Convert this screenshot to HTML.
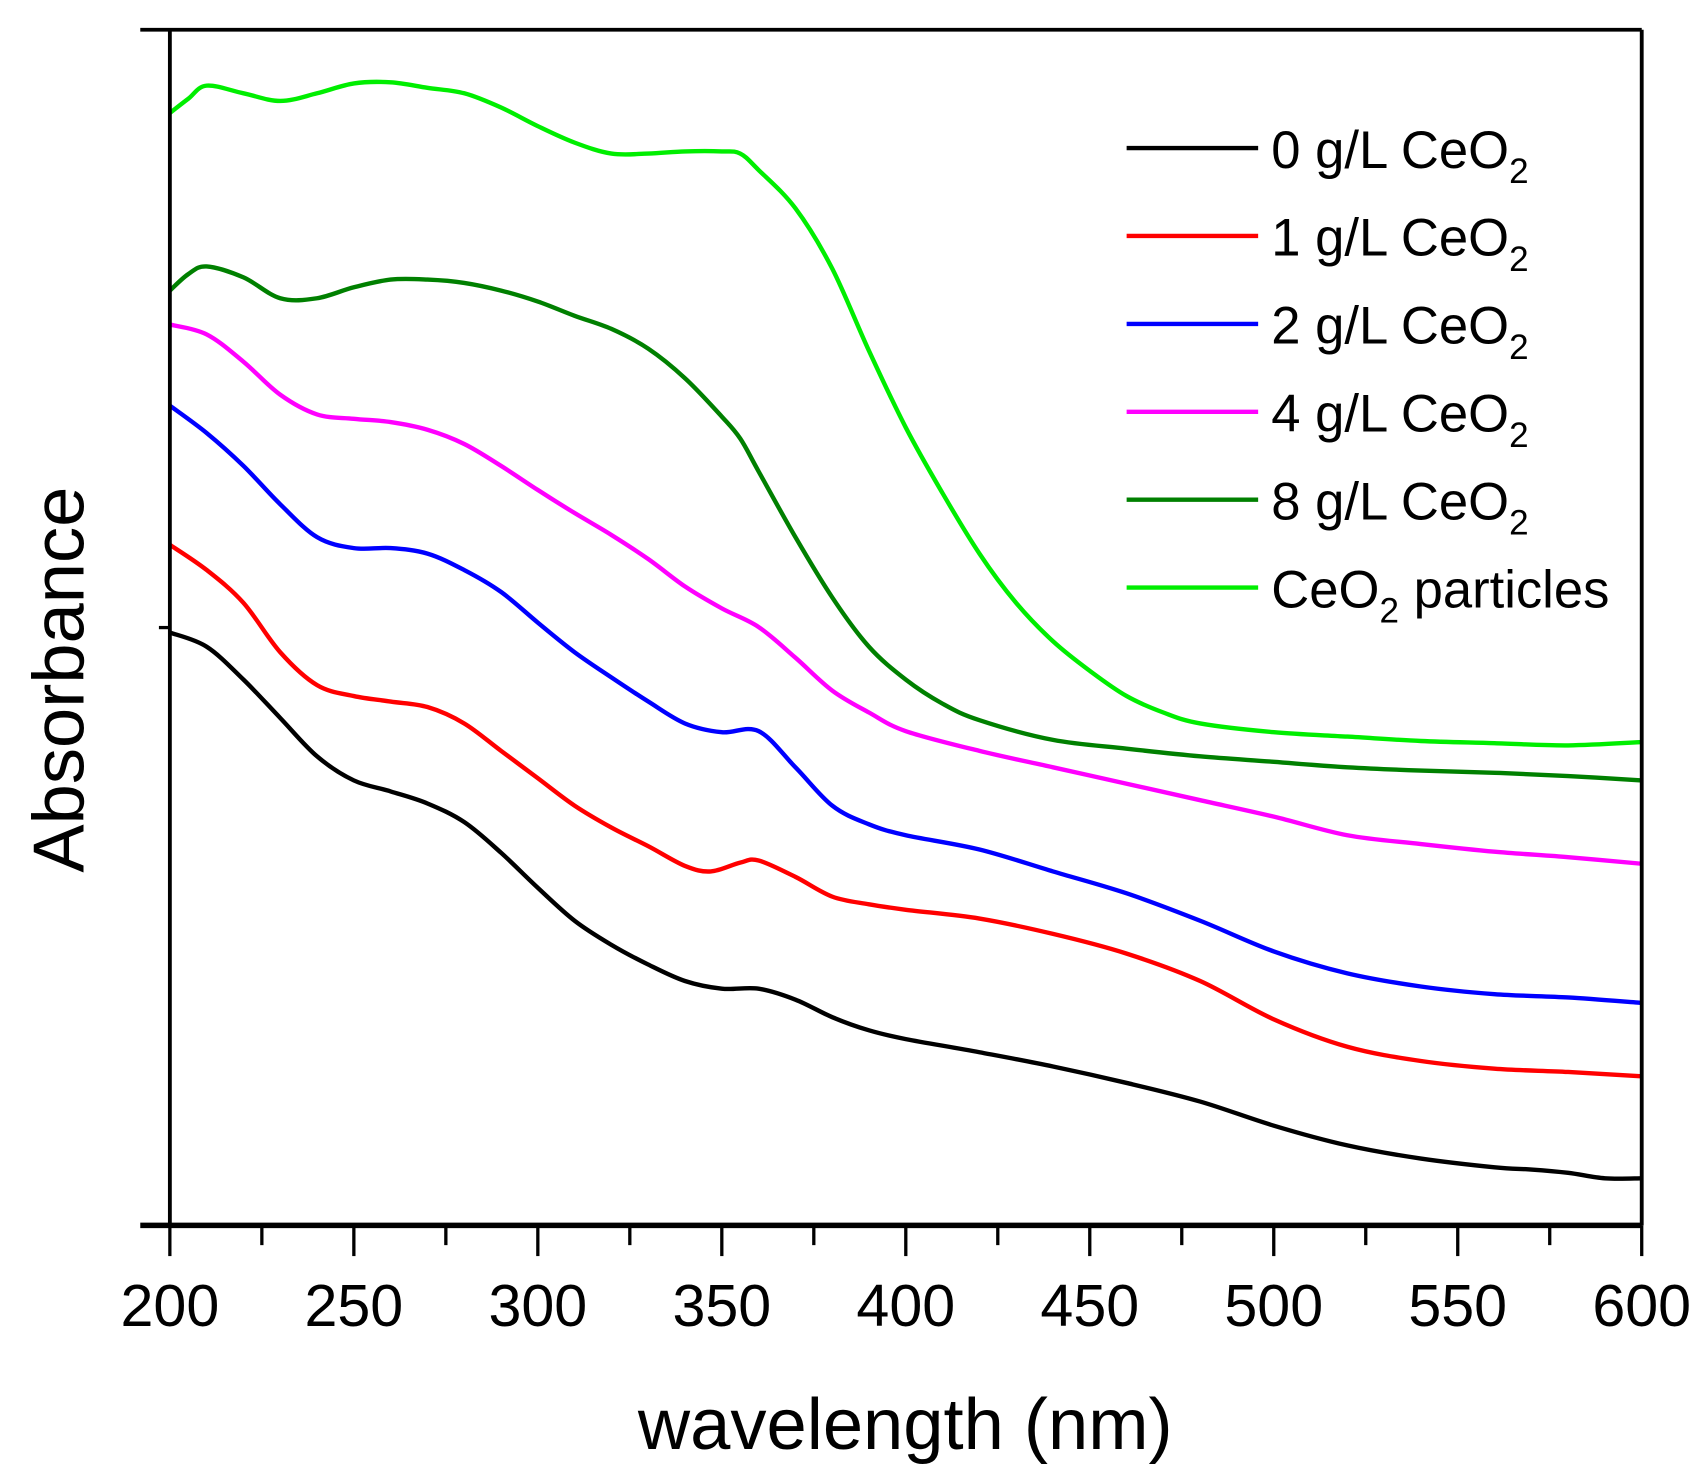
<!DOCTYPE html>
<html><head><meta charset="utf-8"><style>
html,body{margin:0;padding:0;background:#fff;}
svg{display:block;font-family:"Liberation Sans",Arial,sans-serif;}
</style></head><body>
<svg id="chart" width="1702" height="1482" viewBox="0 0 1553 1352" xmlns="http://www.w3.org/2000/svg">
<rect width="1553" height="1352" fill="#fff"/>
<g id="plot"></g>
<g id="axes"></g>
<g id="legend"></g>
<text transform="translate(76,620) rotate(-90)" text-anchor="middle" font-size="66">Absorbance</text>
<text x="826" y="1322" text-anchor="middle" font-size="66">wavelength (nm)</text>
</svg>
<script>
const xTickLabels = ["200","250","300","350","400","450","500","550","600"];
const xTicks = [200,250,300,350,400,450,500,550,600];
const seriesNames = ["0 g/L CeO2","1 g/L CeO2","2 g/L CeO2","4 g/L CeO2","8 g/L CeO2","CeO2 particles"];
const seriesColors = ["#000000","#ff0000","#0000ff","#ff00ff","#008000","#00ee00"];
const wlBlack = [200,210,220,230,240,250,260,270,280,290,300,310,320,330,340,350,360,370,380,390,400,420,440,460,480,500,520,540,560,570,580,590,600];
const absBlack = [541,528,498,463,428,406,396,385,368,340,308,278,256,238,223,216,216,206,190,178,170,158,145,130,113,91,73,61,53,51,48,43,43];
const wlRed = [200,210,220,230,240,250,260,270,280,290,300,310,320,330,340,347,355,360,370,380,390,400,420,440,460,480,500,520,540,560,580,600];
const absRed = [621,598,568,523,493,483,478,473,458,433,408,383,363,346,328,323,331,333,318,300,293,288,280,266,248,223,188,163,150,143,140,136];
const wlBlue = [200,210,220,230,240,250,260,270,280,290,300,310,320,330,340,350,360,370,380,390,400,420,440,460,480,500,520,540,560,580,600];
const absBlue = [748,723,693,658,628,618,618,613,598,578,550,523,500,478,458,450,451,418,383,366,356,343,323,303,278,250,230,218,211,208,203];
const wlMagenta = wlBlue;
const absMagenta = [822,813,788,758,740,736,733,726,713,693,671,650,630,608,583,563,546,518,488,468,451,433,418,403,388,373,356,348,341,336,330];
const wlDarkGreen = [200,205,210,220,230,240,250,260,270,280,290,300,310,320,330,340,350,355,360,370,380,390,400,410,420,440,460,480,500,520,540,560,580,600];
const absDarkGreen = [853,868,875,865,846,846,856,863,863,860,853,843,830,818,800,773,738,718,688,628,573,528,498,476,461,443,435,428,423,418,415,413,410,406];
const wlGreen = [200,205,210,220,230,240,250,260,270,280,290,300,310,320,330,340,350,355,360,370,380,390,400,410,420,430,440,450,460,470,480,500,520,540,560,580,600];
const absGreen = [1015,1028,1040,1033,1026,1033,1042,1043,1038,1033,1020,1003,988,978,978,980,980,978,963,928,873,798,728,668,613,568,533,506,483,468,458,450,446,442,440,438,441];

const NS="http://www.w3.org/2000/svg";
const X0=155,X1=1498,Y0=1118,Y1=27;
const xMin=200,xMax=600,yMin=0,yMax=1091;
function xs(v){return X0+(v-xMin)/(xMax-xMin)*(X1-X0);}
function ys(v){return Y0-(v-yMin)/(yMax-yMin)*(Y0-Y1);}
function mk(tag,attrs,parent){const e=document.createElementNS(NS,tag);for(const k in attrs)e.setAttribute(k,attrs[k]);parent.appendChild(e);return e;}
function pathFor(wl,ab){
  const p=wl.map((w,i)=>[xs(w),ys(ab[i])]);
  let d="M"+p[0][0].toFixed(1)+","+p[0][1].toFixed(1);
  for(let i=0;i<p.length-1;i++){
    const a=p[i-1]||p[i],b=p[i],c=p[i+1],e=p[i+2]||c;
    const c1=[b[0]+(c[0]-a[0])/6,b[1]+(c[1]-a[1])/6],c2=[c[0]-(e[0]-b[0])/6,c[1]-(e[1]-b[1])/6];
    d+=" C"+c1[0].toFixed(1)+","+c1[1].toFixed(1)+" "+c2[0].toFixed(1)+","+c2[1].toFixed(1)+" "+c[0].toFixed(1)+","+c[1].toFixed(1);
  }
  return d;
}
const plot=document.getElementById('plot');
const allWl=[wlBlack,wlRed,wlBlue,wlMagenta,wlDarkGreen,wlGreen];
const allAbs=[absBlack,absRed,absBlue,absMagenta,absDarkGreen,absGreen];
const lineNames=['line-0gl','line-1gl','line-2gl','line-4gl','line-8gl','line-particles'];
allWl.forEach((wl,i)=>{
  const el=mk('path',{d:pathFor(wl,allAbs[i]),fill:'none',stroke:seriesColors[i],'stroke-width':4,'stroke-linejoin':'round'},plot);
  
  
});
const axes=document.getElementById('axes');
const frame=[[128,Y1,X1,Y1,'top-axis'],[128,Y0,X1,Y0,'x-axis'],[X0,Y1,X0,Y0,'y-axis'],[X1,Y1,X1,Y0,'right-axis']];
frame.forEach(f=>{
  const l=mk('line',{x1:f[0],y1:f[1],x2:f[2],y2:f[3],stroke:'#000','stroke-width':f[4]==='x-axis'?5:3.5},axes);
  
  
});
const yt=mk('line',{x1:145,y1:ys(545.5),x2:X0,y2:ys(545.5),stroke:'#000','stroke-width':3},axes);


for(let v=xMin;v<=xMax;v+=25){
  const major=v%50===0;
  const t=mk('line',{x1:xs(v),y1:Y0,x2:xs(v),y2:Y0+(major?28:18),stroke:'#000','stroke-width':3},axes);
  
  
}
xTicks.forEach((v,i)=>{
  const t=mk('text',{x:xs(v),y:1210,'text-anchor':'middle','font-size':54},axes);
  t.textContent=xTickLabels[i];
  
  
});
const leg=document.getElementById('legend');
seriesNames.forEach((n,i)=>{
  const y=135+i*80.2;
  const g=mk('g',{},leg);
  
  
  mk('line',{x1:1028,y1:y,x2:1148,y2:y,stroke:seriesColors[i],'stroke-width':4},g);
  const t=mk('text',{x:1160,y:y+18,'font-size':48},g);
  if(i<5){
    t.innerHTML=n.slice(0,-1)+'<tspan font-size="32" dy="14">2</tspan>';
  } else {
    t.innerHTML='CeO<tspan font-size="32" dy="14">2</tspan><tspan dy="-14"> particles</tspan>';
  }
});
</script>
</body></html>
